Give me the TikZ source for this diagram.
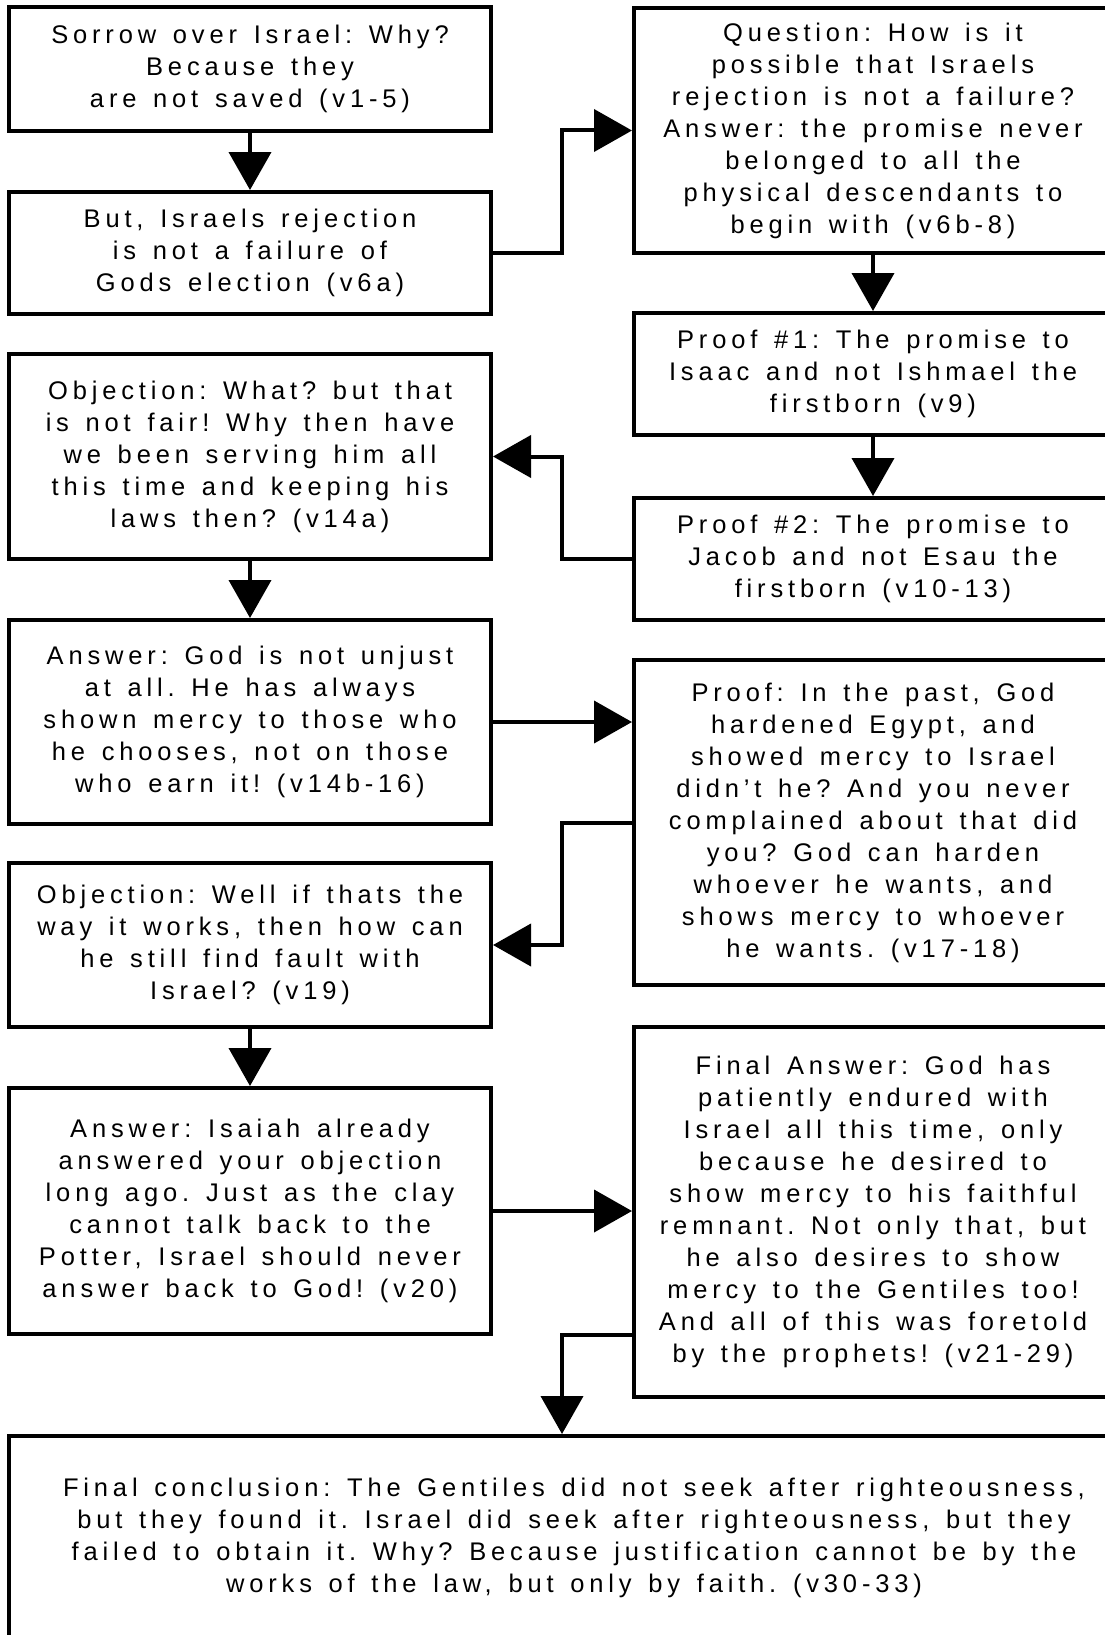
\documentclass[tikz,border=0pt]{standalone}
\usepackage{fontspec}
\setmainfont{Liberation Sans}[LetterSpace=19,WordSpace=1.4]
\usetikzlibrary{arrows.meta,calc}
\begin{document}
\begin{tikzpicture}[x=1pt,y=-1pt,
  box/.style={draw=black, line width=4pt, fill=white, align=center, inner sep=0pt,
    font=\fontsize{25.5pt}{32pt}\selectfont\frenchspacing},
  conn/.style={line width=4pt, -{Triangle[length=38pt,width=42pt]}}]
\useasboundingbox (0,0) rectangle (1105,1635);
\clip (0,0) rectangle (1105,1635);
\fill[white] (0,0) rectangle (1105,1635);
% left column
\node[box, minimum width=482pt, minimum height=124pt] (A) at (250,69)
  {Sorrow over Israel: Why?\\Because they\\are not saved (v1-5)};
\node[box, minimum width=482pt, minimum height=122pt] (B) at (250,253)
  {But, Israels rejection\\is not a failure of\\Gods election (v6a)};
\node[box, minimum width=482pt, minimum height=205pt] (E) at (250,456.5)
  {Objection: What? but that\\is not fair! Why then have\\we been serving him all\\this time and keeping his\\laws then? (v14a)};
\node[box, minimum width=482pt, minimum height=204pt] (G) at (250,722)
  {Answer: God is not unjust\\at all. He has always\\shown mercy to those who\\he chooses, not on those\\who earn it! (v14b-16)};
\node[box, minimum width=482pt, minimum height=164pt] (I) at (250,945)
  {Objection: Well if thats the\\way it works, then how can\\he still find fault with\\Israel? (v19)};
\node[box, minimum width=482pt, minimum height=246pt] (J) at (250,1211)
  {Answer: Isaiah already\\answered your objection\\long ago. Just as the clay\\cannot talk back to the\\Potter, Israel should never\\answer back to God! (v20)};
% right column
\node[box, minimum width=478pt, minimum height=245pt] (C) at (873,130.5)
  {Question: How is it\\possible that Israels\\rejection is not a failure?\\Answer: the promise never\\belonged to all the\\physical descendants to\\begin with (v6b-8)};
\node[box, minimum width=478pt, minimum height=122pt] (D) at (873,374)
  {Proof \#1: The promise to\\Isaac and not Ishmael the\\firstborn (v9)};
\node[box, minimum width=478pt, minimum height=122pt] (F) at (873,559)
  {Proof \#2: The promise to\\Jacob and not Esau the\\firstborn (v10-13)};
\node[box, minimum width=478pt, minimum height=325pt] (H) at (873,822.5)
  {Proof: In the past, God\\hardened Egypt, and\\showed mercy to Israel\\didn't he? And you never\\complained about that did\\you? God can harden\\whoever he wants, and\\shows mercy to whoever\\he wants. (v17-18)};
\node[box, minimum width=478pt, minimum height=370pt] (K) at (873,1212)
  {Final Answer: God has\\patiently endured with\\Israel all this time, only\\because he desired to\\show mercy to his faithful\\remnant. Not only that, but\\he also desires to show\\mercy to the Gentiles too!\\And all of this was foretold\\by the prophets! (v21-29)};
% bottom
\node[box, minimum width=1130pt, minimum height=204pt] (L) at (574,1538)
  {Final conclusion: The Gentiles did not seek after righteousness,\\but they found it. Israel did seek after righteousness, but they\\failed to obtain it. Why? Because justification cannot be by the\\works of the law, but only by faith. (v30-33)};
\coordinate (kx) at (562,0);
% connectors
\draw[conn] (A.south) -- (B.north);
\draw[conn] (B.east) -- (B.east -| kx) |- (C.west);
\draw[conn] (C.south) -- (D.north);
\draw[conn] (D.south) -- (F.north);
\draw[conn] (F.west) -- (F.west -| kx) |- (E.east);
\draw[conn] (E.south) -- (G.north);
\draw[conn] (G.east) -- (G.east -| H.west);
\draw[conn] (H.west) -- (H.west -| kx) |- (I.east);
\draw[conn] (I.south) -- (J.north);
\draw[conn] (J.east) -- (J.east -| K.west);
\draw[conn] ([yshift=64pt]K.south west) -| (L.north -| kx);
\end{tikzpicture}
\end{document}
